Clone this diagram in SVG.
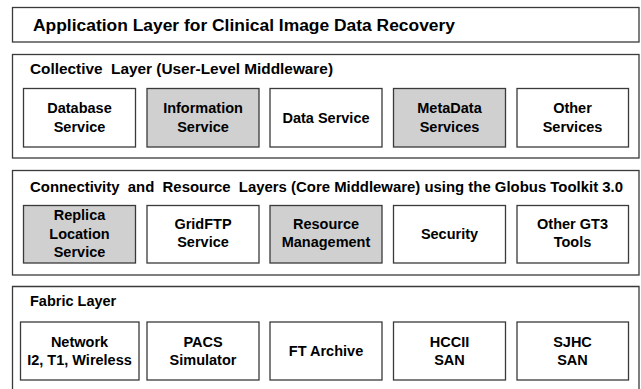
<svg xmlns="http://www.w3.org/2000/svg" width="641" height="389" viewBox="0 0 641 389">
<style>
.layer{fill:#fff;stroke:#3a3a3a;stroke-width:1.3}
.box{fill:#fff;stroke:#3a3a3a;stroke-width:1.3}
.gray{fill:#d0d0d0}
text{font-family:"Liberation Sans",Arial,sans-serif;font-weight:bold;fill:#000}
.t{font-size:14.5px;text-anchor:middle}
.h{font-size:14.5px;white-space:pre}
.title{font-size:17.4px}
</style>
<rect width="641" height="389" fill="#fff"/>
<g id="application-layer">
<rect class="layer" x="12.5" y="7.5" width="626.5" height="34.5"/>
<text class="title" x="33" y="31" textLength="422" lengthAdjust="spacingAndGlyphs">Application Layer for Clinical Image Data Recovery</text>
</g>
<g id="collective-layer">
<rect class="layer" x="12.5" y="54.5" width="626.5" height="103.5"/>
<text class="h" x="30" y="74" xml:space="preserve" textLength="303" lengthAdjust="spacingAndGlyphs">Collective  Layer (User-Level Middleware)</text>
</g>
<g id="database-service">
<rect class="box" x="23.5" y="88.5" width="112" height="58.5"/>
<text class="t" x="79.5" y="113">Database</text><text class="t" x="79.5" y="131.5">Service</text>
</g>
<g id="information-service">
<rect class="box gray" x="147" y="88.5" width="112" height="58.5"/>
<text class="t" x="203" y="113">Information</text><text class="t" x="203" y="131.5">Service</text>
</g>
<g id="data-service">
<rect class="box" x="270" y="88.5" width="112" height="58.5"/>
<text class="t" x="326" y="122.5">Data Service</text>
</g>
<g id="metadata-services">
<rect class="box gray" x="393.5" y="88.5" width="112" height="58.5"/>
<text class="t" x="449.5" y="113">MetaData</text><text class="t" x="449.5" y="131.5">Services</text>
</g>
<g id="other-services">
<rect class="box" x="517" y="88.5" width="111.5" height="58.5"/>
<text class="t" x="572.5" y="113">Other</text><text class="t" x="572.5" y="131.5">Services</text>
</g>
<g id="connectivity-layer">
<rect class="layer" x="12.5" y="170.5" width="626.5" height="104.5"/>
<text class="h" x="30" y="191.5" xml:space="preserve" textLength="593" lengthAdjust="spacingAndGlyphs">Connectivity  and  Resource  Layers (Core Middleware) using the Globus Toolkit 3.0</text>
</g>
<g id="replica-location-service">
<rect class="box gray" x="23.5" y="205.5" width="112" height="57.5"/>
<text class="t" x="79.5" y="220">Replica</text><text class="t" x="79.5" y="238.5">Location</text><text class="t" x="79.5" y="257">Service</text>
</g>
<g id="gridftp-service">
<rect class="box" x="147" y="205.5" width="112" height="57.5"/>
<text class="t" x="203" y="228.5">GridFTP</text><text class="t" x="203" y="247">Service</text>
</g>
<g id="resource-management">
<rect class="box gray" x="270" y="205.5" width="112" height="57.5"/>
<text class="t" x="326" y="228.5">Resource</text><text class="t" x="326" y="247">Management</text>
</g>
<g id="security">
<rect class="box" x="393.5" y="205.5" width="112" height="57.5"/>
<text class="t" x="449.5" y="239">Security</text>
</g>
<g id="other-gt3-tools">
<rect class="box" x="517" y="205.5" width="111.5" height="57.5"/>
<text class="t" x="572.5" y="228.5">Other GT3</text><text class="t" x="572.5" y="247">Tools</text>
</g>
<g id="fabric-layer">
<path class="layer" d="M12.5,392 V286.5 H639 V392"/>
<text class="h" x="30" y="305.5">Fabric Layer</text>
</g>
<g id="network">
<rect class="box" x="20.5" y="322" width="118.5" height="58"/>
<text class="t" x="79.5" y="346.5">Network</text><text class="t" x="79.5" y="365">I2, T1, Wireless</text>
</g>
<g id="pacs-simulator">
<rect class="box" x="147" y="322" width="112" height="58"/>
<text class="t" x="203" y="346.5">PACS</text><text class="t" x="203" y="365">Simulator</text>
</g>
<g id="ft-archive">
<rect class="box" x="270" y="322" width="112" height="58"/>
<text class="t" x="326" y="355.5">FT Archive</text>
</g>
<g id="hccii-san">
<rect class="box" x="393.5" y="322" width="112" height="58"/>
<text class="t" x="449.5" y="346.5">HCCII</text><text class="t" x="449.5" y="365">SAN</text>
</g>
<g id="sjhc-san">
<rect class="box" x="517" y="322" width="111.5" height="58"/>
<text class="t" x="572.5" y="346.5">SJHC</text><text class="t" x="572.5" y="365">SAN</text>
</g>
<g id="connectors"/>
</svg>
